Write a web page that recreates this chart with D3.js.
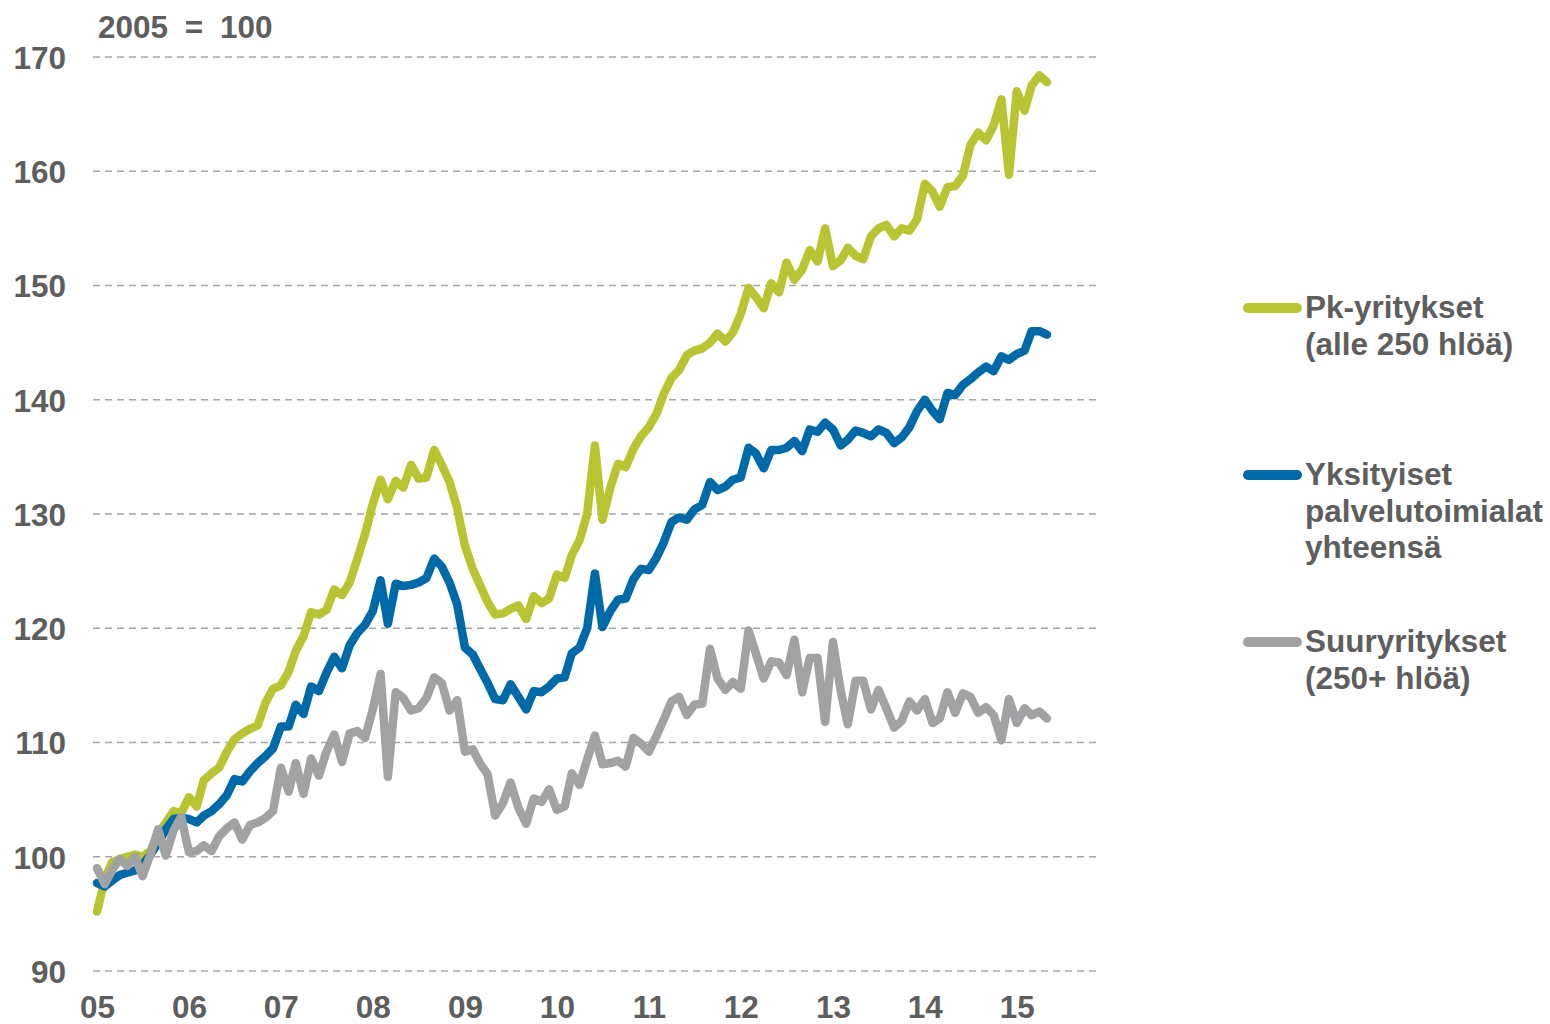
<!DOCTYPE html>
<html>
<head>
<meta charset="utf-8">
<script src="https://cdn.jsdelivr.net/npm/d3@7"></script>
<style>
  body { margin: 0; background: #fff; }
  svg { font-family: "Liberation Sans", Arial, sans-serif; font-weight: bold; }
</style>
</head>
<body>
<script>
// monthly index, 2005 = 100, Jan 2005 .. May 2015
var startMonth = new Date(2005, 0, 1)
var years = [2005, 2006, 2007, 2008, 2009, 2010, 2011, 2012, 2013, 2014, 2015]
var yTicks = [90, 100, 110, 120, 130, 140, 150, 160, 170]

var seriesNames = [
  ["Pk-yritykset", "(alle 250 hlöä)"],
  ["Yksityiset", "palvelutoimialat", "yhteensä"],
  ["Suuryritykset", "(250+ hlöä)"]
]
var seriesColors = ["#b8c431", "#006aa9", "#a1a2a4"]

var pk = [
  95.2, 98.0, 99.5, 99.8, 100.0, 100.2, 100.0, 100.5, 102.0, 103.0, 104.0, 103.8,
  105.2, 104.4, 106.7, 107.3, 107.8, 109.2, 110.3, 110.8, 111.2, 111.5, 113.5, 114.7,
  115.0, 116.2, 118.0, 119.3, 121.4, 121.2, 121.6, 123.4, 122.9, 124.0, 126.1, 128.2,
  130.9, 133.0, 131.3, 132.9, 132.3, 134.3, 133.1, 133.2, 135.6, 134.3, 132.8, 130.5,
  127.2, 125.2, 123.8, 122.3, 121.2, 121.3, 121.7, 122.0, 120.8, 122.8, 122.2, 122.6,
  124.7, 124.4, 126.4, 127.7, 130.0, 136.0, 129.5, 132.3, 134.4, 134.1, 135.7, 136.8,
  137.6, 138.8, 140.5, 141.9, 142.6, 143.9, 144.3, 144.5, 145.0, 145.8, 145.1, 145.9,
  147.5, 149.8, 149.0, 148.0, 150.2, 149.4, 152.0, 150.5, 151.4, 153.1, 152.1, 155.0,
  151.7, 152.2, 153.3, 152.6, 152.3, 154.3, 155.0, 155.3, 154.3, 155.0, 154.8, 155.8,
  158.9, 158.2, 156.9, 158.6, 158.7, 159.6, 162.3, 163.4, 162.7, 164.0, 166.3, 159.7,
  167.0, 165.3, 167.5, 168.4, 167.8
]

var palvelu = [
  97.7, 97.4, 97.9, 98.4, 98.6, 98.8, 99.3, 100.2, 101.2, 102.4, 103.3, 103.4,
  103.3, 103.0, 103.6, 104.0, 104.6, 105.4, 106.8, 106.6, 107.5, 108.2, 108.8, 109.5,
  111.4, 111.4, 113.3, 112.5, 114.9, 114.5, 116.1, 117.5, 116.5, 118.5, 119.6, 120.3,
  121.5, 124.2, 120.4, 123.9, 123.7, 123.8, 124.0, 124.4, 126.1, 125.4, 124.0, 122.1,
  118.3, 117.7, 116.5, 115.2, 113.8, 113.7, 115.1, 114.0, 112.9, 114.5, 114.4, 114.9,
  115.6, 115.7, 117.8, 118.3, 120.0, 124.8, 120.1, 121.5, 122.5, 122.6, 124.3, 125.2,
  125.1, 126.2, 127.5, 129.3, 129.7, 129.5, 130.4, 130.8, 132.8, 132.1, 132.4, 133.0,
  133.2, 135.8, 135.3, 134.0, 135.6, 135.6, 135.8, 136.4, 135.5, 137.4, 137.2, 138.0,
  137.4, 136.0, 136.5, 137.3, 137.1, 136.8, 137.4, 137.1, 136.2, 136.7, 137.6, 139.0,
  140.0, 139.0, 138.3, 140.6, 140.4, 141.3, 141.8, 142.4, 142.9, 142.5, 143.8, 143.5,
  144.0, 144.3, 146.0, 146.0, 145.7
]

var suur = [
  99.0, 97.6, 98.8, 99.8, 99.2, 100.0, 98.3, 100.2, 102.4, 100.1, 102.3, 103.5,
  100.4, 100.5, 101.0, 100.5, 101.8, 102.5, 103.0, 101.5, 102.8, 103.0, 103.4, 104.0,
  107.8, 105.7, 108.2, 105.5, 108.6, 107.1, 109.2, 110.7, 108.3, 110.8, 111.0, 110.4,
  112.9, 116.0, 107.0, 114.4, 113.9, 112.8, 113.0, 113.9, 115.7, 115.2, 112.8, 113.7,
  109.2, 109.4, 108.2, 107.2, 103.6, 104.7, 106.5, 104.3, 102.9, 105.1, 104.8, 105.9,
  104.1, 104.4, 107.3, 106.3, 108.5, 110.6, 108.1, 108.2, 108.4, 107.9, 110.4, 109.9,
  109.2, 110.6, 112.0, 113.6, 114.0, 112.4, 113.3, 113.4, 118.2, 115.6, 114.6, 115.3,
  114.7, 119.8, 117.8, 115.6, 117.1, 117.0, 115.9, 119.0, 114.4, 117.4, 117.4, 111.8,
  118.8, 114.5, 111.6, 115.4, 115.4, 112.9, 114.6, 113.0, 111.3, 111.9, 113.6, 112.8,
  113.8, 111.7, 112.1, 114.4, 112.6, 114.3, 114.0, 112.6, 113.1, 112.4, 110.2, 113.8,
  111.7, 113.0, 112.4, 112.7, 112.1
]

var width = 1550, height = 1024
var textColor = "#5e5e5e"

var svg = d3.select("body").append("svg")
    .attr("width", width)
    .attr("height", height)

function monthDate(i) {
  return d3.timeMonth.offset(startMonth, i)
}

var x = d3.scaleTime()
    .domain([startMonth, monthDate(pk.length - 1)])
    .range([97, 1047])

var y = d3.scaleLinear()
    .domain([90, 170])
    .range([971, 57])

// dashed gridlines
svg.append("g").selectAll("line")
    .data(yTicks)
    .enter().append("line")
    .attr("x1", 93).attr("x2", 1097)
    .attr("y1", function(d) { return y(d); })
    .attr("y2", function(d) { return y(d); })
    .attr("stroke", "#a6a6a6")
    .attr("stroke-width", 1.6)
    .attr("stroke-dasharray", "7,5")

// y axis labels
var yAxis = svg.append("g")
    .attr("transform", "translate(66,0)")
    .call(d3.axisLeft(y).tickValues(yTicks).tickSize(0).tickPadding(0))
yAxis.select(".domain").remove()
yAxis.selectAll("text")
    .attr("fill", textColor)
    .attr("font-size", 31.5)
    .attr("font-family", "Liberation Sans, Arial, sans-serif")
    .attr("font-weight", "bold")
    .attr("dy", "0.36em")

// x axis labels
var xAxis = svg.append("g")
    .attr("transform", "translate(0,971)")
    .call(d3.axisBottom(x)
      .tickValues(years.map(function(yr) { return new Date(yr, 0, 1); }))
      .tickFormat(d3.timeFormat("%y"))
      .tickSize(0))
xAxis.select(".domain").remove()
xAxis.selectAll("text")
    .attr("fill", textColor)
    .attr("font-size", 31.5)
    .attr("font-family", "Liberation Sans, Arial, sans-serif")
    .attr("font-weight", "bold")
    .attr("y", 47)
    .attr("dy", 0)

// title
svg.append("text")
    .attr("x", 98)
    .attr("y", 38)
    .attr("fill", textColor)
    .attr("font-size", 31.5)
    .style("word-spacing", "8px")
    .text("2005 = 100")

var line = d3.line()
    .x(function(d, i) { return x(monthDate(i)); })
    .y(function(d) { return y(d); })

var allSeries = [pk, palvelu, suur]

svg.append("g").selectAll("path")
    .data(allSeries)
    .enter().append("path")
    .attr("d", line)
    .attr("fill", "none")
    .attr("stroke", function(d, i) { return seriesColors[i]; })
    .attr("stroke-width", 8.5)
    .attr("stroke-linejoin", "round")
    .attr("stroke-linecap", "round")

// legend
var legendY = [308, 475, 642]
var legend = svg.append("g").selectAll("g")
    .data(seriesNames)
    .enter().append("g")
    .attr("transform", function(d, i) { return "translate(0," + legendY[i] + ")"; })

legend.append("line")
    .attr("x1", 1248).attr("x2", 1297)
    .attr("y1", 0).attr("y2", 0)
    .attr("stroke", function(d, i) { return seriesColors[i]; })
    .attr("stroke-width", 10)
    .attr("stroke-linecap", "round")

legend.append("text")
    .attr("fill", textColor)
    .attr("font-size", 31.5)
    .each(function(d) {
      var t = d3.select(this)
      d.forEach(function(s, k) {
        t.append("tspan")
          .attr("x", 1305)
          .attr("y", 10 + k * 36.7)
          .text(s)
      })
    })
</script>
</body>
</html>
